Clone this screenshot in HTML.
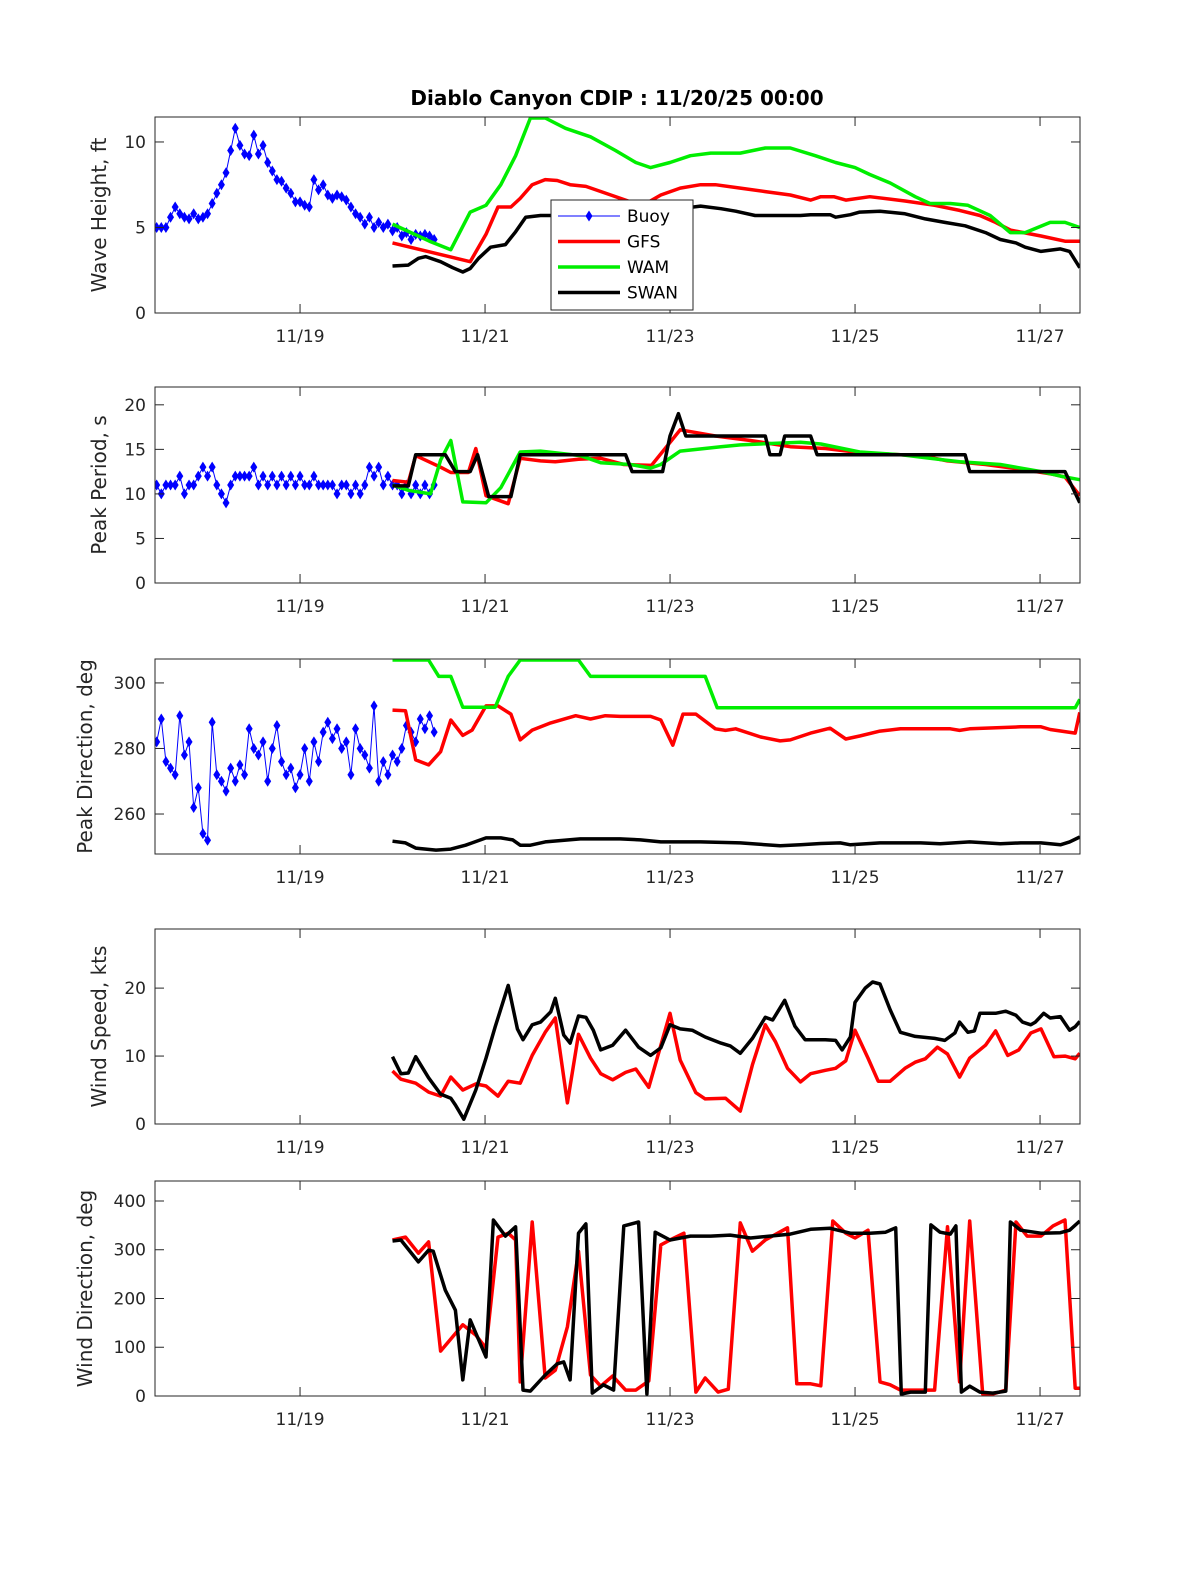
<!DOCTYPE html>
<html><head><meta charset="utf-8"><style>
html,body{margin:0;padding:0;background:#fff}
svg{display:block;font-family:"DejaVu Sans","Liberation Sans",sans-serif}
</style></head><body>
<svg id="chart" width="1200" height="1575" viewBox="0 0 1200 1575" xmlns="http://www.w3.org/2000/svg">
<rect width="1200" height="1575" fill="#fff"/>
<text x="617" y="105" text-anchor="middle" font-size="20" font-weight="bold">Diablo Canyon CDIP : 11/20/25 00:00</text>
</svg>
<script>
// ---------- shared x data ----------
const xTickDays = [19, 21, 23, 25, 27];
const xTickLabels = ["11/19", "11/21", "11/23", "11/25", "11/27"];
const buoyStart = 17.45, buoyStep = 0.05;

// ---------- buoy data ----------
const buoyHeight = [5.0,5.0,5.0,5.6,6.2,5.8,5.6,5.5,5.8,5.5,5.6,5.8,6.4,7.0,7.5,8.2,9.5,10.8,9.8,9.3,9.2,10.4,9.3,9.8,8.8,8.3,7.8,7.7,7.3,7.0,6.5,6.5,6.3,6.2,7.8,7.2,7.5,6.9,6.7,6.9,6.8,6.6,6.2,5.8,5.6,5.2,5.6,5.0,5.3,5.0,5.2,4.8,5.0,4.5,4.7,4.3,4.6,4.5,4.6,4.5,4.3];
const buoyPeriod = [11,10,11,11,11,12,10,11,11,12,13,12,13,11,10,9,11,12,12,12,12,13,11,12,11,12,11,12,11,12,11,12,11,11,12,11,11,11,11,10,11,11,10,11,10,11,13,12,13,11,12,11,11,10,11,10,11,10,11,10,11];
const buoyDir = [282,289,276,274,272,290,278,282,262,268,254,252,288,272,270,267,274,270,275,272,286,280,278,282,270,280,287,276,272,274,268,272,280,270,282,276,285,288,283,286,280,282,272,286,280,278,274,293,270,276,272,278,276,280,287,285,282,289,286,290,285];

// ---------- wave height models ----------
const gfsHtT = [20.00,20.84,21.01,21.14,21.28,21.38,21.51,21.65,21.78,21.92,22.09,22.36,22.57,22.74,22.90,23.11,23.33,23.49,23.76,24.03,24.30,24.52,24.63,24.77,24.90,25.16,25.54,25.86,26.13,26.35,26.52,26.68,27.01,27.27,27.43];
const gfsHtV = [4.1,3.0,4.6,6.2,6.2,6.7,7.5,7.8,7.75,7.5,7.4,6.9,6.5,6.4,6.9,7.3,7.5,7.5,7.3,7.1,6.9,6.6,6.8,6.8,6.6,6.8,6.55,6.3,6.0,5.7,5.3,4.85,4.5,4.2,4.2];
const wamHtT = [20.00,20.20,20.40,20.63,20.84,21.01,21.17,21.33,21.49,21.65,21.87,22.14,22.41,22.63,22.79,23.00,23.22,23.44,23.76,24.03,24.30,24.57,24.79,25.00,25.16,25.38,25.65,25.81,26.03,26.22,26.46,26.68,26.84,27.11,27.27,27.43];
const wamHtV = [5.2,4.7,4.2,3.7,5.9,6.3,7.5,9.2,11.4,11.4,10.8,10.3,9.5,8.8,8.5,8.8,9.2,9.35,9.35,9.65,9.65,9.2,8.8,8.5,8.1,7.6,6.8,6.4,6.4,6.3,5.7,4.7,4.7,5.3,5.3,5.0];
const swanHtT = [20.00,20.17,20.28,20.36,20.52,20.65,20.76,20.84,20.93,21.06,21.22,21.33,21.44,21.60,21.87,22.20,22.50,22.80,23.10,23.33,23.55,23.71,23.92,24.41,24.52,24.73,24.79,24.95,25.05,25.27,25.54,25.76,25.97,26.19,26.41,26.57,26.74,26.84,27.01,27.22,27.32,27.43];
const swanHtV = [2.75,2.8,3.2,3.3,3.0,2.65,2.4,2.6,3.2,3.85,4.0,4.75,5.6,5.7,5.7,5.75,5.8,5.9,6.1,6.25,6.1,5.95,5.7,5.7,5.75,5.75,5.6,5.75,5.9,5.95,5.8,5.5,5.3,5.1,4.7,4.3,4.1,3.85,3.6,3.75,3.6,2.65];

// ---------- peak period models ----------
const gfsPerT = [20.00,20.17,20.25,20.52,20.63,20.82,20.90,21.01,21.25,21.38,21.60,21.76,22.01,22.25,22.50,22.80,23.11,23.49,23.87,24.30,24.68,25.00,25.27,25.71,26.00,26.41,26.84,27.14,27.27,27.43];
const gfsPerV = [11.5,11.3,14.3,13.0,12.4,12.4,15.1,9.8,8.9,14.0,13.7,13.6,13.9,14.0,13.3,13.2,17.2,16.5,16.0,15.3,15.1,14.7,14.5,14.3,13.7,13.3,12.7,12.2,11.9,9.8];
const wamPerT = [20.00,20.17,20.41,20.52,20.63,20.76,21.01,21.17,21.38,21.60,22.03,22.25,22.57,22.79,22.90,23.11,23.55,23.76,24.41,24.63,25.05,25.49,25.81,26.13,26.57,27.01,27.22,27.43];
const wamPerV = [11.0,10.4,10.0,13.8,16.0,9.1,9.0,10.7,14.7,14.8,14.3,13.5,13.3,12.9,13.3,14.8,15.3,15.5,15.8,15.6,14.7,14.4,14.0,13.6,13.3,12.5,12.0,11.6];
const swanPerT = [20.00,20.17,20.25,20.57,20.68,20.84,20.92,21.04,21.28,21.38,22.52,22.59,22.92,23.00,23.09,23.17,24.03,24.08,24.19,24.24,24.52,24.59,26.19,26.24,27.27,27.43];
const swanPerV = [10.9,10.9,14.4,14.4,12.5,12.5,14.4,9.7,9.7,14.4,14.4,12.5,12.5,16.5,19.0,16.5,16.5,14.4,14.4,16.5,16.5,14.4,14.4,12.5,12.5,9.0];

// ---------- peak direction models ----------
const gfsDirT = [20.00,20.14,20.25,20.39,20.52,20.63,20.76,20.86,21.01,21.14,21.28,21.38,21.51,21.71,21.98,22.14,22.30,22.46,22.79,22.90,23.03,23.14,23.28,23.49,23.60,23.71,23.98,24.19,24.30,24.52,24.73,24.90,25.05,25.27,25.49,26.03,26.13,26.24,26.79,27.01,27.11,27.38,27.43];
const gfsDirV = [291.7,291.5,276.5,275,279,288.7,284,285.6,293,293,290.5,282.6,285.6,287.8,290,289,290,289.8,289.8,288.7,281,290.5,290.5,286,285.5,286,283.5,282.3,282.6,284.7,286.2,282.9,283.8,285.3,286,286,285.5,286,286.6,286.6,285.8,284.7,291];
const wamDirT = [20.00,20.39,20.50,20.63,20.76,21.11,21.25,21.38,22.01,22.14,23.38,23.51,27.38,27.43];
const wamDirV = [307,307,302,302,292.6,292.6,302,307,307,302,302,292.4,292.4,295];
const swanDirT = [20.00,20.14,20.25,20.47,20.63,20.79,20.86,21.01,21.17,21.30,21.38,21.49,21.65,22.03,22.46,22.68,22.90,23.33,23.76,24.19,24.41,24.63,24.84,24.95,25.27,25.71,25.92,26.24,26.57,26.79,27.01,27.22,27.32,27.43];
const swanDirV = [251.7,251.2,249.6,249,249.3,250.5,251.2,252.7,252.7,252.1,250.5,250.5,251.5,252.4,252.4,252.1,251.5,251.5,251.2,250.3,250.6,251,251.2,250.6,251.2,251.2,250.9,251.5,250.9,251.2,251.2,250.6,251.5,253];

// ---------- wind speed models ----------
const gfsWsT = [20.00,20.09,20.25,20.39,20.52,20.63,20.76,20.90,21.01,21.14,21.25,21.38,21.51,21.65,21.76,21.89,22.01,22.14,22.25,22.38,22.52,22.63,22.77,23.00,23.11,23.28,23.38,23.60,23.76,23.89,24.03,24.14,24.27,24.41,24.52,24.68,24.79,24.90,25.00,25.14,25.25,25.38,25.54,25.65,25.76,25.89,26.00,26.13,26.24,26.41,26.52,26.65,26.77,26.90,27.01,27.15,27.27,27.38,27.43];
const gfsWsV = [7.8,6.6,6.0,4.7,4.1,6.9,5.0,5.9,5.6,4.1,6.3,6.0,10.1,13.5,15.6,3.1,13.2,9.7,7.4,6.5,7.6,8.1,5.4,16.3,9.4,4.6,3.7,3.8,1.9,8.7,14.6,12.1,8.2,6.2,7.4,7.9,8.2,9.3,13.8,9.7,6.3,6.3,8.2,9.1,9.6,11.3,10.3,6.9,9.7,11.6,13.7,10.1,10.9,13.4,14.0,9.9,10.0,9.6,10.4];
const swanWsT = [20.00,20.09,20.17,20.25,20.39,20.52,20.63,20.68,20.77,20.90,21.01,21.11,21.25,21.35,21.41,21.51,21.60,21.71,21.76,21.85,21.92,22.01,22.09,22.17,22.25,22.38,22.52,22.66,22.79,22.90,23.00,23.11,23.24,23.38,23.55,23.65,23.76,23.89,24.03,24.11,24.24,24.35,24.46,24.68,24.79,24.86,24.95,25.00,25.11,25.19,25.27,25.38,25.49,25.65,25.86,25.97,26.08,26.13,26.22,26.29,26.35,26.52,26.63,26.74,26.81,26.90,26.95,27.04,27.11,27.22,27.32,27.38,27.43];
const swanWsV = [9.9,7.4,7.5,9.9,6.8,4.4,3.8,2.8,0.7,5.0,9.7,14.3,20.4,14.0,12.4,14.6,15.0,16.5,18.5,13.1,11.9,15.9,15.7,13.8,10.9,11.6,13.8,11.3,10.1,11.2,14.6,14.0,13.8,12.8,11.9,11.5,10.4,12.6,15.7,15.3,18.2,14.4,12.4,12.4,12.3,10.9,12.8,17.9,20.0,20.9,20.6,16.8,13.5,12.9,12.6,12.3,13.4,15.0,13.5,13.7,16.3,16.3,16.6,16.0,15.0,14.6,15.0,16.3,15.6,15.8,13.8,14.3,15.1];

// ---------- wind direction models ----------
const gfsWdT = [20.00,20.14,20.28,20.39,20.52,20.76,20.90,21.01,21.14,21.25,21.33,21.38,21.51,21.65,21.76,21.89,22.01,22.14,22.25,22.38,22.52,22.63,22.77,22.90,23.00,23.15,23.28,23.38,23.52,23.63,23.76,23.89,24.03,24.27,24.37,24.52,24.63,24.76,24.90,25.00,25.14,25.27,25.38,25.49,25.65,25.86,26.00,26.13,26.24,26.38,26.49,26.63,26.74,26.86,27.01,27.14,27.27,27.38,27.43];
const gfsWdV = [320,326,293,316,92,146,125,98,326,334,320,29,357,37,53,142,297,43,20,41,12,12,31,310,320,334,8,37,8,14,355,297,320,345,25,25,21,359,334,324,340,29,23,12,12,12,347,29,359,4,4,12,357,328,328,349,361,16,16];
const swanWdT = [20.00,20.09,20.28,20.39,20.44,20.57,20.68,20.76,20.84,21.01,21.09,21.22,21.33,21.41,21.49,21.65,21.78,21.85,21.92,22.01,22.09,22.16,22.28,22.39,22.50,22.66,22.75,22.84,23.00,23.22,23.44,23.65,23.87,24.08,24.30,24.52,24.73,24.95,25.16,25.33,25.44,25.50,25.60,25.76,25.82,25.92,26.03,26.09,26.15,26.24,26.35,26.49,26.63,26.68,26.79,27.01,27.22,27.32,27.43];
const swanWdV = [318,320,275,299,297,217,176,33,156,80,361,328,347,12,10,43,66,70,33,334,353,6,23,12,349,357,4,336,320,328,328,330,324,328,332,342,344,334,334,336,345,4,8,8,351,336,332,349,8,20,8,6,10,357,340,334,335,340,359];

// ---------- drawing ----------
const svg = document.getElementById('chart');
const NS = 'http://www.w3.org/2000/svg';
const X0 = 155, X1 = 1080, D0 = 17.432, D1 = 27.432;
function xScale(d){ return X0 + (d - D0) / (D1 - D0) * (X1 - X0); }
function mk(tag, attrs, parent){ const e = document.createElementNS(NS, tag); for (const k in attrs) e.setAttribute(k, attrs[k]); (parent || svg).appendChild(e); return e; }
function buoyTimes(n){ const t = []; for (let i = 0; i < n; i++) t.push(buoyStart + i * buoyStep); return t; }

const panels = [
  {name:'wave-height', top:117, bot:313, ymin:0, ymax:11.46, ticks:[0,5,10], label:'Wave Height, ft', lx:106,
   series:[{name:'gfs', t:gfsHtT, v:gfsHtV, c:'#ff0000'},{name:'wam', t:wamHtT, v:wamHtV, c:'#00ee00'},{name:'swan', t:swanHtT, v:swanHtV, c:'#000'}], buoy:buoyHeight, legend:true},
  {name:'peak-period', top:387, bot:583, ymin:0, ymax:22.0, ticks:[0,5,10,15,20], label:'Peak Period, s', lx:106,
   series:[{name:'gfs', t:gfsPerT, v:gfsPerV, c:'#ff0000'},{name:'wam', t:wamPerT, v:wamPerV, c:'#00ee00'},{name:'swan', t:swanPerT, v:swanPerV, c:'#000'}], buoy:buoyPeriod},
  {name:'peak-direction', top:659, bot:854, ymin:247.8, ymax:307.3, ticks:[260,280,300], label:'Peak Direction, deg', lx:92,
   series:[{name:'gfs', t:gfsDirT, v:gfsDirV, c:'#ff0000'},{name:'wam', t:wamDirT, v:wamDirV, c:'#00ee00'},{name:'swan', t:swanDirT, v:swanDirV, c:'#000'}], buoy:buoyDir},
  {name:'wind-speed', top:929, bot:1124, ymin:0, ymax:28.7, ticks:[0,10,20], label:'Wind Speed, kts', lx:106,
   series:[{name:'gfs', t:gfsWsT, v:gfsWsV, c:'#ff0000'},{name:'swan', t:swanWsT, v:swanWsV, c:'#000'}]},
  {name:'wind-direction', top:1181, bot:1396, ymin:0, ymax:441, ticks:[0,100,200,300,400], label:'Wind Direction, deg', lx:92,
   series:[{name:'gfs', t:gfsWdT, v:gfsWdV, c:'#ff0000'},{name:'swan', t:swanWdT, v:swanWdV, c:'#000'}]}
];

panels.forEach(p => {
  const g = mk('g', {});
  
  
  const yS = v => p.bot - (v - p.ymin) / (p.ymax - p.ymin) * (p.bot - p.top);
  const cid = 'clip-' + p.name;
  const cp = mk('clipPath', {id: cid}, g);
  mk('rect', {x: X0, y: p.top, width: X1 - X0, height: p.bot - p.top}, cp);
  const plot = mk('g', {'clip-path': 'url(#' + cid + ')'}, g);
  // buoy
  if (p.buoy) {
    const t = buoyTimes(p.buoy.length);
    const pts = p.buoy.map((v, i) => xScale(t[i]).toFixed(1) + ',' + yS(v).toFixed(1)).join(' ');
    const bl = mk('polyline', {points: pts, fill: 'none', stroke: '#0000ff', 'stroke-width': 1}, plot);
    
    
    p.buoy.forEach((v, i) => {
      const x = xScale(t[i]), y = yS(v);
      const m = mk('polygon', {points: `${x},${y-5.5} ${x+3.5},${y} ${x},${y+5.5} ${x-3.5},${y}`, fill: '#0000ff'}, plot);
      
      
    });
  }
  p.series.forEach(s => {
    const pts = s.t.map((d, i) => xScale(d).toFixed(1) + ',' + yS(s.v[i]).toFixed(1)).join(' ');
    const l = mk('polyline', {points: pts, fill: 'none', stroke: s.c, 'stroke-width': 3.5, 'stroke-linejoin': 'round'}, plot);
    
    
  });
  // box
  const box = mk('rect', {x: X0, y: p.top, width: X1 - X0, height: p.bot - p.top, fill: 'none', stroke: '#262626', 'stroke-width': 1}, g);
  
  
  // x ticks
  xTickDays.forEach((d, i) => {
    const x = xScale(d);
    mk('line', {x1: x, x2: x, y1: p.bot, y2: p.bot - 9, stroke: '#262626'}, g);
    mk('line', {x1: x, x2: x, y1: p.top, y2: p.top + 9, stroke: '#262626'}, g);
    const tx = mk('text', {x: x, y: p.bot + 29, 'text-anchor': 'middle', 'font-size': 17, fill: '#262626'}, g);
    tx.textContent = xTickLabels[i];
    
    
  });
  p.ticks.forEach(v => {
    const y = yS(v);
    mk('line', {x1: X0, x2: X0 + 9, y1: y, y2: y, stroke: '#262626'}, g);
    mk('line', {x1: X1, x2: X1 - 9, y1: y, y2: y, stroke: '#262626'}, g);
    const ty = mk('text', {x: X0 - 9, y: y + 6, 'text-anchor': 'end', 'font-size': 17, fill: '#262626'}, g);
    ty.textContent = v;
    
    
  });
  const cy = (p.top + p.bot) / 2;
  const yl = mk('text', {x: p.lx, y: cy, 'text-anchor': 'middle', 'font-size': 20, fill: '#262626', transform: `rotate(-90 ${p.lx} ${cy})`}, g);
  yl.textContent = p.label;
  
  

  if (p.legend) {
    const lg = mk('g', {}, g);
    
    
    mk('rect', {x: 551, y: 200, width: 142, height: 110, fill: '#fff', stroke: '#262626', 'stroke-width': 1}, lg);
    const ents = [['Buoy','#0000ff',1],['GFS','#ff0000',3.5],['WAM','#00ee00',3.5],['SWAN','#000',3.5]];
    ents.forEach((e, i) => {
      const y = 216 + i * 25.5;
      const eg = mk('g', {}, lg);
      
      
      mk('line', {x1: 558, x2: 620, y1: y, y2: y, stroke: e[1], 'stroke-width': e[2]}, eg);
      if (i === 0) mk('polygon', {points: `589,${y-5.5} 592.5,${y} 589,${y+5.5} 585.5,${y}`, fill: '#0000ff'}, eg);
      const t = mk('text', {x: 627, y: y + 6, 'font-size': 17, fill: '#000'}, eg);
      t.textContent = e[0];
    });
  }
});
</script>
</body></html>
